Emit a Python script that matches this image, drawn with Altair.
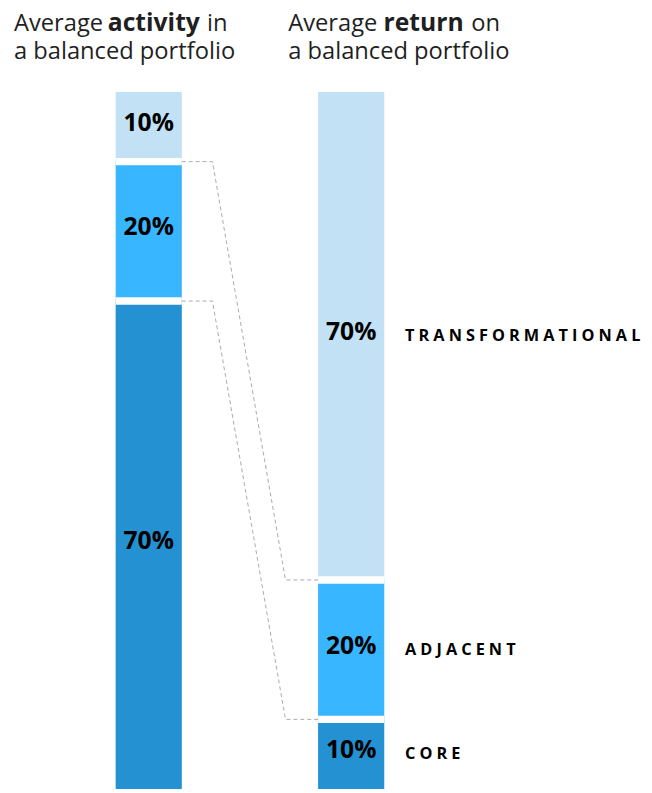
import altair as alt
import pandas as pd

# ---- data ----
columns = ["activity", "return"]
categories = ["TRANSFORMATIONAL", "ADJACENT", "CORE"]
activity_share = [10, 20, 70]
return_share = [70, 20, 10]
colors = ["#C2E1F5", "#38B6FF", "#2391D2"]
title_left = ["Average", "activity", "in", "a balanced portfolio"]
title_right = ["Average", "return", "on", "a balanced portfolio"]

# ---- layout (style) ----
HALF = 0.1634          # half bar width in x units
ELBOW1, ELBOW2 = 0.3146, 0.6756
FONT = "Open Sans"
SPACER = "\u2005"
TOP = 10               # top padding in px

xs = alt.Scale(domain=[0, 1], range=[142.5, 347.5], nice=False, zero=False, padding=0)
ys = alt.Scale(domain=[0, 100], range=[80 - TOP, 786 - TOP], nice=False, zero=False, padding=0)

rows = []
for ci, vals in enumerate([activity_share, return_share]):
    cum = 0
    for cat, v in zip(categories, vals):
        rows.append(dict(col=ci, cat=cat, y0=cum, y1=cum + v, mid=cum + v / 2,
                         label=f"{v}%", name=SPACER.join(cat)))
        cum += v
bars = pd.DataFrame(rows)

# white gaps at internal boundaries
gap_rows = []
for ci, vals in enumerate([activity_share, return_share]):
    cum = 0
    for v in vals[:-1]:
        cum += v
        gap_rows.append(dict(xa=ci - HALF, xb=ci + HALF, yb=cum))
gaps = pd.DataFrame(gap_rows)

# dashed connectors
line_rows = []
ca, cr = 0, 0
for i in range(len(categories) - 1):
    ca += activity_share[i]
    cr += return_share[i]
    for step, (xx, yy) in enumerate([(HALF, ca), (ELBOW1, ca), (ELBOW2, cr), (1 - HALF, cr)]):
        line_rows.append(dict(b=i, step=step, x=xx, y=yy))
lines = pd.DataFrame(line_rows)

base = alt.Chart(bars)

bar_layer = base.mark_bar(size=67).encode(
    x=alt.X("col:Q", scale=xs, axis=None),
    y=alt.Y("y0:Q", scale=ys, axis=None, stack=None),
    y2="y1:Q",
    color=alt.Color("cat:N", scale=alt.Scale(domain=categories, range=colors), legend=None),
)

gap_layer = alt.Chart(gaps).mark_rule(color="white", strokeWidth=7.5).encode(
    x=alt.X("xa:Q", scale=xs, axis=None),
    x2="xb:Q",
    y=alt.Y("yb:Q", scale=ys, axis=None),
)

line_layer = alt.Chart(lines).mark_line(color="#AAAAAA", strokeWidth=1, strokeDash=[4, 3]).encode(
    x=alt.X("x:Q", scale=xs, axis=None),
    y=alt.Y("y:Q", scale=ys, axis=None),
    detail="b:N",
    order="step:Q",
)

pct_layer = base.mark_text(font=FONT, fontSize=25, fontWeight="bold", color="#000000",
                           align="center", baseline="middle", dy=-4).encode(
    x=alt.X("col:Q", scale=xs, axis=None),
    y=alt.Y("mid:Q", scale=ys, axis=None),
    text="label:N",
)

name_layer = base.transform_filter(alt.datum.col == 1).mark_text(
    font=FONT, fontSize=16.5, fontWeight="bold", color="#000000",
    align="left", baseline="middle", dx=54.5).encode(
    x=alt.X("col:Q", scale=xs, axis=None),
    y=alt.Y("mid:Q", scale=ys, axis=None),
    text="name:N",
)


def piece(text, x, y, bold=False):
    return alt.Chart(alt.Data(values=[{}])).mark_text(
        font=FONT, fontSize=25 if bold else 24, fontWeight="bold" if bold else "normal",
        color="#1f1f1f", align="left", baseline="alphabetic").encode(
        x=alt.value(x), y=alt.value(y - TOP), text=alt.value(text))


titles = [
    piece(title_left[0], 6, 18.7),
    piece(title_left[1], 101, 18.7, True),
    piece(title_left[2], 201.5, 18.7),
    piece(title_left[3], 6, 46.5),
    piece(title_right[0], 283.7, 18.7),
    piece(title_right[1], 380.3, 18.7, True),
    piece(title_right[2], 469, 18.7),
    piece(title_right[3], 283.7, 46.5),
]

chart = alt.layer(bar_layer, gap_layer, line_layer, pct_layer, name_layer, *titles).properties(
    width=644, height=785 - TOP,
    padding={"top": TOP, "left": 0, "right": 0, "bottom": 0}, autosize="none"
).configure_view(stroke=None)

chart.save("out.html", embed_options={"renderer": "svg", "actions": False})
